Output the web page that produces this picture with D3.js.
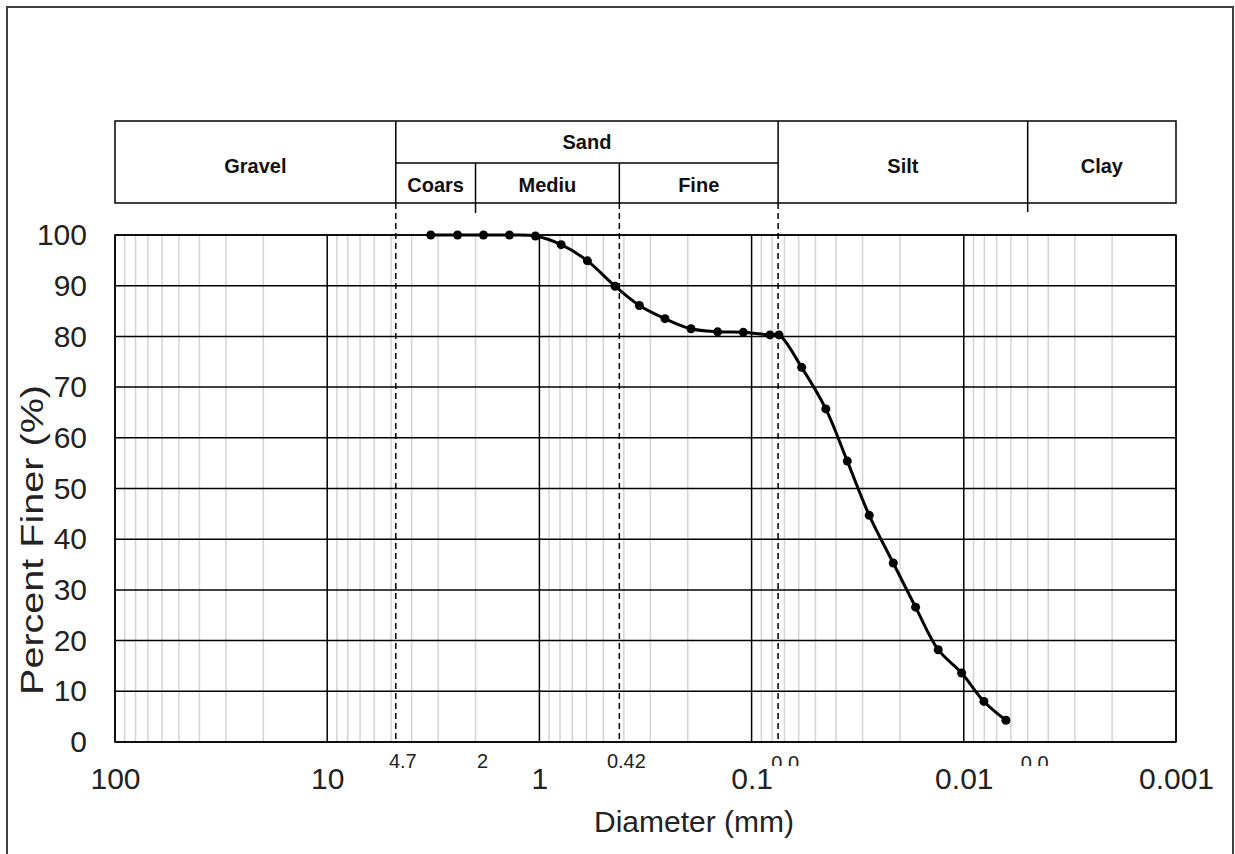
<!DOCTYPE html>
<html>
<head>
<meta charset="utf-8">
<script src="https://cdn.jsdelivr.net/npm/d3@7"></script>
<style>
  html, body { margin: 0; padding: 0; background: #fff; }
  svg { display: block; font-family: "Liberation Sans", Arial, sans-serif; }
</style>
</head>
<body>
<svg id="chart" width="1235" height="854"></svg>
<script>
// Grain-size distribution (hydrometer + sieve analysis)
const diameters = [3.25, 2.43, 1.835, 1.384, 1.044, 0.790, 0.594, 0.440, 0.338, 0.256,
                   0.193, 0.1445, 0.1094, 0.0819, 0.0743, 0.0581, 0.0447, 0.0354, 0.0279,
                   0.0215, 0.01687, 0.0132, 0.01024, 0.00804, 0.00633];
const percentFiner = [100, 100, 100, 100, 99.8, 98.1, 94.9, 89.9, 86.1, 83.5,
                      81.5, 80.9, 80.8, 80.3, 80.3, 73.9, 65.7, 55.4, 44.7,
                      35.3, 26.6, 18.2, 13.6, 8.0, 4.3];

const xTickValues = [100, 10, 1, 0.1, 0.01, 0.001];
const xTickLabels = ["100", "10", "1", "0.1", "0.01", "0.001"];
const yTickValues = [0, 10, 20, 30, 40, 50, 60, 70, 80, 90, 100];

// Soil classification boundaries (mm) and their labels
const boundaries = [4.75, 2, 0.42, 0.075, 0.005];
const boundaryLabels = ["4.7", "2", "0.42", "0.0", "0.0"];

// Classification header cells: [name, coarse limit, fine limit]
const mainClasses = [["Gravel", 100, 4.75], ["Sand", 4.75, 0.075], ["Silt", 0.075, 0.005], ["Clay", 0.005, 0.001]];
const sandClasses = [["Coars", 4.75, 2], ["Mediu", 2, 0.42], ["Fine", 0.42, 0.075]];

const svg = d3.select("#chart");

// frame around the whole figure
svg.append("rect").attr("x", 7).attr("y", 7).attr("width", 1226).attr("height", 860)
  .attr("fill", "none").attr("stroke", "#404040").attr("stroke-width", 2);

const L = 115, R = 1176, T = 235, B = 742;
const x = d3.scaleLog().domain([100, 0.001]).range([L, R]);
const y = d3.scaleLinear().domain([0, 100]).range([B, T]);

// minor vertical grid (2..9 within each decade)
const minor = [];
for (let e = -3; e < 2; e++) for (let m = 2; m <= 9; m++) minor.push(m * Math.pow(10, e));
svg.append("g").selectAll("line").data(minor).join("line")
  .attr("x1", d => x(d)).attr("x2", d => x(d)).attr("y1", T).attr("y2", B)
  .attr("stroke", "#d4d4d4").attr("stroke-width", 1.5);

// major horizontal grid
svg.append("g").selectAll("line").data(yTickValues).join("line")
  .attr("x1", L).attr("x2", R).attr("y1", d => y(d)).attr("y2", d => y(d))
  .attr("stroke", "#000").attr("stroke-width", 1.5);

// decade verticals
svg.append("g").selectAll("line").data(xTickValues).join("line")
  .attr("x1", d => x(d)).attr("x2", d => x(d)).attr("y1", T).attr("y2", B)
  .attr("stroke", "#000").attr("stroke-width", 1.5);

// header table
const hTop = 121, hMid = 163, hBot = 203;
svg.append("rect").attr("x", L).attr("y", hTop).attr("width", R - L).attr("height", hBot - hTop)
  .attr("fill", "none").attr("stroke", "#000").attr("stroke-width", 1.5);
svg.append("line").attr("x1", x(4.75)).attr("x2", x(0.075)).attr("y1", hMid).attr("y2", hMid)
  .attr("stroke", "#000").attr("stroke-width", 1.5);
// main dividers
[[4.75, hTop, hBot], [0.075, hTop, hBot], [0.005, hTop, hBot + 9],
 [2, hMid, hBot + 10], [0.42, hMid, hBot]].forEach(([v, a, b]) => {
  svg.append("line").attr("x1", x(v)).attr("x2", x(v)).attr("y1", a).attr("y2", b)
    .attr("stroke", "#000").attr("stroke-width", 1.5);
});
const hdr = svg.append("g").attr("font-weight", "bold").attr("font-size", 20).attr("fill", "#111")
  .attr("text-anchor", "middle");
mainClasses.forEach(([name, a, b]) => {
  hdr.append("text").attr("x", (x(a) + x(b)) / 2)
    .attr("y", name === "Sand" ? 149 : 173).text(name);
});
sandClasses.forEach(([name, a, b]) => {
  hdr.append("text").attr("x", (x(a) + x(b)) / 2).attr("y", 192).text(name);
});

// dashed classification lines through the plot
svg.append("g").selectAll("line").data(boundaries.filter(b => b !== 2 && b !== 0.005)).join("line")
  .attr("x1", d => x(d)).attr("x2", d => x(d)).attr("y1", hBot).attr("y2", B)
  .attr("stroke", "#000").attr("stroke-width", 1.5).attr("stroke-dasharray", "6,4");

// boundary value labels under the axis (the fine-limit labels are cut off at the bottom)
const defs = svg.append("defs");
defs.append("clipPath").attr("id", "lblclip")
  .append("rect").attr("x", 0).attr("y", 0).attr("width", 1235).attr("height", 766);
svg.append("g").selectAll("text").data(boundaries).join("text")
  .attr("x", d => x(d) + 7).attr("y", (d, i) => i >= 3 ? 770 : 768)
  .attr("text-anchor", "middle").attr("font-size", 20).attr("fill", "#222")
  .attr("clip-path", (d, i) => i >= 3 ? "url(#lblclip)" : null)
  .text((d, i) => boundaryLabels[i]);

// data curve
const pts = diameters.map((d, i) => [d, percentFiner[i]]);
svg.append("path").datum(pts)
  .attr("d", d3.line().x(d => x(d[0])).y(d => y(d[1])).curve(d3.curveCatmullRom.alpha(0.5)))
  .attr("fill", "none").attr("stroke", "#000").attr("stroke-width", 3);
svg.append("g").selectAll("circle").data(pts).join("circle")
  .attr("cx", d => x(d[0])).attr("cy", d => y(d[1])).attr("r", 4.5).attr("fill", "#000");

// plot border
svg.append("rect").attr("x", L).attr("y", T).attr("width", R - L).attr("height", B - T)
  .attr("fill", "none").attr("stroke", "#000").attr("stroke-width", 1.5);

// axes
const yAxis = svg.append("g").attr("transform", `translate(${L},0)`)
  .call(d3.axisLeft(y).tickValues(yTickValues).tickSize(0).tickPadding(28));
yAxis.select(".domain").remove();
yAxis.selectAll("text").attr("font-size", 30).attr("fill", "#222")
  .attr("font-family", "Liberation Sans, Arial, sans-serif");

const xAxis = svg.append("g").attr("transform", `translate(0,${B})`)
  .call(d3.axisBottom(x).tickValues(xTickValues).tickSize(0).tickPadding(26)
    .tickFormat((d, i) => xTickLabels[i]));
xAxis.select(".domain").remove();
xAxis.selectAll("text").attr("font-size", 30).attr("fill", "#222")
  .attr("font-family", "Liberation Sans, Arial, sans-serif");

// axis titles
svg.append("text").attr("x", 694).attr("y", 832).attr("text-anchor", "middle")
  .attr("font-size", 30).attr("fill", "#222").text("Diameter (mm)");
svg.append("text").attr("transform", "translate(43,540) rotate(-90)").attr("text-anchor", "middle")
  .attr("font-size", 32).attr("fill", "#222")
  .attr("textLength", 310).attr("lengthAdjust", "spacingAndGlyphs").text("Percent Finer (%)");
</script>
</body>
</html>
